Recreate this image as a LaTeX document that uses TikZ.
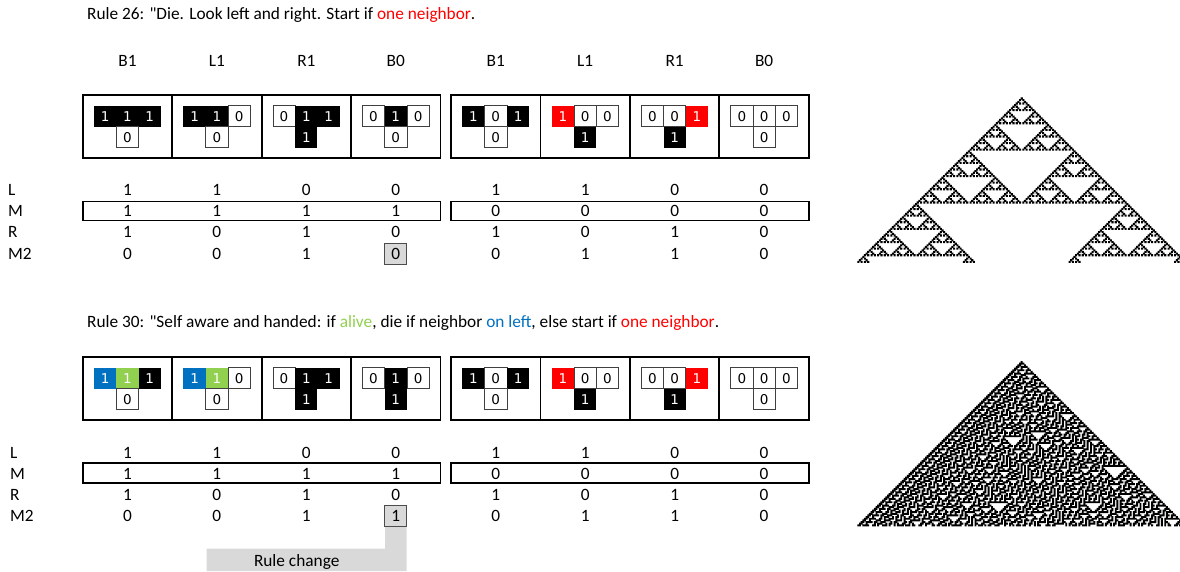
\documentclass[tikz,border=0pt]{standalone}
\usepackage{fontspec}
\setmainfont{Carlito}
\newfontfamily\qfont{Carlito}
\newfontfamily\cellfont{DejaVu Sans}
\definecolor{xred}{HTML}{FF0000}
\definecolor{xblue}{HTML}{0070C0}
\definecolor{xgreen}{HTML}{92D050}
\definecolor{xgray}{HTML}{D9D9D9}
\makeatletter
\newcount\ca@t \newcount\ca@x \newcount\ca@lo \newcount\ca@hi \newcount\ca@i
\newdimen\ca@px \newdimen\ca@py \newdimen\ca@c \newdimen\ca@xo \newdimen\ca@yo \newdimen\ca@s
\def\ca@C{101}
\def\ca@rows{99}
\def\ca@setrule#1#2#3#4#5#6#7#8{%
  \@namedef{ca@b@0}{#1}\@namedef{ca@b@1}{#2}\@namedef{ca@b@2}{#3}\@namedef{ca@b@3}{#4}%
  \@namedef{ca@b@4}{#5}\@namedef{ca@b@5}{#6}\@namedef{ca@b@6}{#7}\@namedef{ca@b@7}{#8}}
\def\ca@r#1{\csname ca@r@\number\numexpr#1\relax\endcsname}
\def\ca@initloop{%
  \ifnum\ca@x>202 \else
    \expandafter\def\csname ca@r@\number\ca@x\endcsname{0}%
    \advance\ca@x by 1
    \expandafter\ca@initloop
  \fi}
\def\ca@drawloop{%
  \ifnum\ca@x>\ca@hi\else
    \ifnum\ca@r{\ca@x}=1
      \ca@i=\numexpr\ca@x-\ca@C\relax
      \ca@px=\dimexpr\ca@xo+\ca@c*\ca@i-\ca@s/2\relax
      \pgfpathrectangle{\pgfqpoint{\ca@px}{\ca@py}}{\pgfqpoint{\ca@s}{\ca@s}}%
    \fi
    \advance\ca@x by 1
    \expandafter\ca@drawloop
  \fi}
\def\ca@comploop{%
  \ifnum\ca@x>\ca@hi\else
    \ca@i=\numexpr4*\ca@r{\ca@x-1}+2*\ca@r{\ca@x}+\ca@r{\ca@x+1}\relax
    \expandafter\edef\csname ca@n@\number\ca@x\endcsname{\csname ca@b@\number\ca@i\endcsname}%
    \advance\ca@x by 1
    \expandafter\ca@comploop
  \fi}
\def\ca@copyloop{%
  \ifnum\ca@x>\ca@hi\else
    \expandafter\edef\csname ca@r@\number\ca@x\endcsname{\csname ca@n@\number\ca@x\endcsname}%
    \advance\ca@x by 1
    \expandafter\ca@copyloop
  \fi}
\def\ca@rowloop{%
  \ifnum\ca@t>\ca@rows\else
    \ca@lo=\numexpr\ca@C-\ca@t\relax \ca@hi=\numexpr\ca@C+\ca@t\relax
    \ca@py=\dimexpr0pt-\ca@yo-\ca@c*\ca@t-\ca@s/2\relax
    \ca@x=\ca@lo \ca@drawloop
    \ca@lo=\numexpr\ca@C-\ca@t-1\relax \ca@hi=\numexpr\ca@C+\ca@t+1\relax
    \ca@x=\ca@lo \ca@comploop
    \ca@x=\ca@lo \ca@copyloop
    \advance\ca@t by 1
    \expandafter\ca@rowloop
  \fi}
\def\ca@draw#1#2#3#4#5{%
  \ca@setrule#1%
  \ca@xo=#2pt \ca@yo=#3pt \ca@c=#4pt \ca@s=#5pt
  \ca@x=0 \ca@initloop
  \expandafter\def\csname ca@r@\ca@C\endcsname{1}%
  \ca@t=0 \ca@rowloop}
\def\drawCA{\ca@draw}
\makeatother
\tikzset{
  txt/.style={font=\fontsize{17.3}{19}\selectfont, inner sep=0pt, text=black},
  lbl/.style={txt, anchor=west},
  bigbox/.style={draw=black, line width=1.8pt, minimum width=89.45pt, minimum height=62.7pt, inner sep=0pt},
  mbox/.style={draw=black, line width=1.6pt, minimum height=19pt, inner sep=0pt},
  gbox/.style={txt, draw=black!70, line width=0.9pt, fill=xgray, minimum width=21.7pt, minimum height=21pt},
  val/.style={txt},
  cellbase/.style={minimum width=22.3pt, minimum height=21pt, inner sep=0pt, outer sep=0pt,
    font=\cellfont\fontsize{13.5}{13.5}\selectfont},
  cw/.style={cellbase, draw=black!75, line width=0.7pt, fill=white, text=black},
  ck/.style={cellbase, fill=black, text=white},
  cr/.style={cellbase, fill=xred, text=white},
  cbl/.style={cellbase, fill=xblue, text=white},
  cgr/.style={cellbase, fill=xgreen, text=white},
}
\def\cwname{cw}
\newcommand\digof[1]{\def\digtmp{#1}\ifx\digtmp\cwname 0\else 1\fi}
\newcommand\tee[7]{%
  \node[#4] (#1l) at ({#2-22.3},#3) {\digof{#4}};
  \node[#5] (#1m) at (#2,#3) {\digof{#5}};
  \node[#6] (#1r) at ({#2+22.3},#3) {\digof{#6}};
  \node[#7] (#1b) at (#2,{#3+21}) {\digof{#7}};
}
\def\colX{{127.43,216.88,306.33,395.78,495.75,585.2,674.65,764.1}}
\begin{document}
\begin{tikzpicture}[x=1pt,y=-1pt]
\useasboundingbox (0,0) rectangle (1180,571);
% titles
\node[lbl] (title1) at (87,15) {Rule 26: {\qfont"}Die. Look left and right. Start if \textcolor{xred}{one neighbor}.};
\node[lbl] (title2) at (87,323) {Rule 30: {\qfont"}Self aware and handed: if \textcolor{xgreen}{alive}, die if neighbor \textcolor{xblue}{on left}, else start if \textcolor{xred}{one neighbor}.};
% headers
\foreach \h [count=\i] in {B1,L1,R1,B0,B1,L1,R1,B0} {
  \pgfmathsetmacro\cx{\colX[\i-1]}
  \node[txt] (h\i) at (\cx,61) {\h};
}
% big boxes
\foreach \i in {1,...,8} {
  \pgfmathsetmacro\cx{\colX[\i-1]}
  \node[bigbox] (bxa\i) at (\cx,126.35) {};
  \node[bigbox] (bxb\i) at (\cx,388.35) {};
}
% T shapes section 1
\tee{a1}{127.43}{116.2}{ck}{ck}{ck}{cw}
\tee{a2}{216.88}{116.2}{ck}{ck}{cw}{cw}
\tee{a3}{306.33}{116.2}{cw}{ck}{ck}{ck}
\tee{a4}{395.78}{116.2}{cw}{ck}{cw}{cw}
\tee{a5}{495.75}{116.2}{ck}{cw}{ck}{cw}
\tee{a6}{585.2}{116.2}{cr}{cw}{cw}{ck}
\tee{a7}{674.65}{116.2}{cw}{cw}{cr}{ck}
\tee{a8}{764.1}{116.2}{cw}{cw}{cw}{cw}
% T shapes section 2
\tee{b1}{127.43}{378.2}{cbl}{cgr}{ck}{cw}
\tee{b2}{216.88}{378.2}{cbl}{cgr}{cw}{cw}
\tee{b3}{306.33}{378.2}{cw}{ck}{ck}{ck}
\tee{b4}{395.78}{378.2}{cw}{ck}{cw}{ck}
\tee{b5}{495.75}{378.2}{ck}{cw}{ck}{cw}
\tee{b6}{585.2}{378.2}{cr}{cw}{cw}{ck}
\tee{b7}{674.65}{378.2}{cw}{cw}{cr}{ck}
\tee{b8}{764.1}{378.2}{cw}{cw}{cw}{cw}
% M row boxes
\node[mbox, minimum width=357.8pt] (ma1) at (261.6,211) {};
\node[mbox, minimum width=357.8pt] (ma2) at (629.9,211) {};
\node[mbox, minimum width=357.8pt, minimum height=20pt] (mb1) at (261.6,473) {};
\node[mbox, minimum width=357.8pt, minimum height=20pt] (mb2) at (629.9,473) {};
% row labels
\node[lbl] (la1) at (8,190) {L};
\node[lbl] (la2) at (8,211) {M};
\node[lbl] (la3) at (8,232) {R};
\node[lbl] (la4) at (8,253.5) {M2};
\node[lbl] (lb1) at (10,452.5) {L};
\node[lbl] (lb2) at (10,473.5) {M};
\node[lbl] (lb3) at (10,494.5) {R};
\node[lbl] (lb4) at (10,516) {M2};
% callout
\fill[xgray] (385,526) -- (406.7,526) -- (406.7,571) -- (206.5,571) -- (206.5,548.5) -- (385,548.5) -- cycle;
\node[txt] (rc) at (296.7,561.5) {Rule change};
% table values
\foreach \s/\v [count=\i] in {val/1,val/1,val/0,val/0,val/1,val/1,val/0,val/0} {
  \pgfmathsetmacro\cx{\colX[\i-1]}
  \node[\s] (tal\i) at (\cx,190) {\v};
  \node[\s] (tbl\i) at (\cx,452.5) {\v};
}
\foreach \s/\v [count=\i] in {val/1,val/1,val/1,val/1,val/0,val/0,val/0,val/0} {
  \pgfmathsetmacro\cx{\colX[\i-1]}
  \node[\s] (tam\i) at (\cx,211) {\v};
  \node[\s] (tbm\i) at (\cx,473.5) {\v};
}
\foreach \s/\v [count=\i] in {val/1,val/0,val/1,val/0,val/1,val/0,val/1,val/0} {
  \pgfmathsetmacro\cx{\colX[\i-1]}
  \node[\s] (tar\i) at (\cx,232) {\v};
  \node[\s] (tbr\i) at (\cx,494.5) {\v};
}
\foreach \s/\v [count=\i] in {val/0,val/0,val/1,gbox/0,val/0,val/1,val/1,val/0} {
  \pgfmathsetmacro\cx{\colX[\i-1]}
  \node[\s] (tan\i) at (\cx,253.5) {\v};
}
\foreach \s/\v [count=\i] in {val/0,val/0,val/1,gbox/1,val/0,val/1,val/1,val/0} {
  \pgfmathsetmacro\cx{\colX[\i-1]}
  \node[\s] (tbn\i) at (\cx,516) {\v};
}
% automata
\begin{scope}
\clip (0,0) rectangle (1180,571);
\pgfsetfillcolor{black}
\drawCA{01011000}{1021.7}{98.5}{1.65}{2.1}
\pgfusepath{fill}
\drawCA{01111000}{1021.7}{362}{1.65}{1.95}
\pgfusepath{fill}
\end{scope}
\end{tikzpicture}
\end{document}
